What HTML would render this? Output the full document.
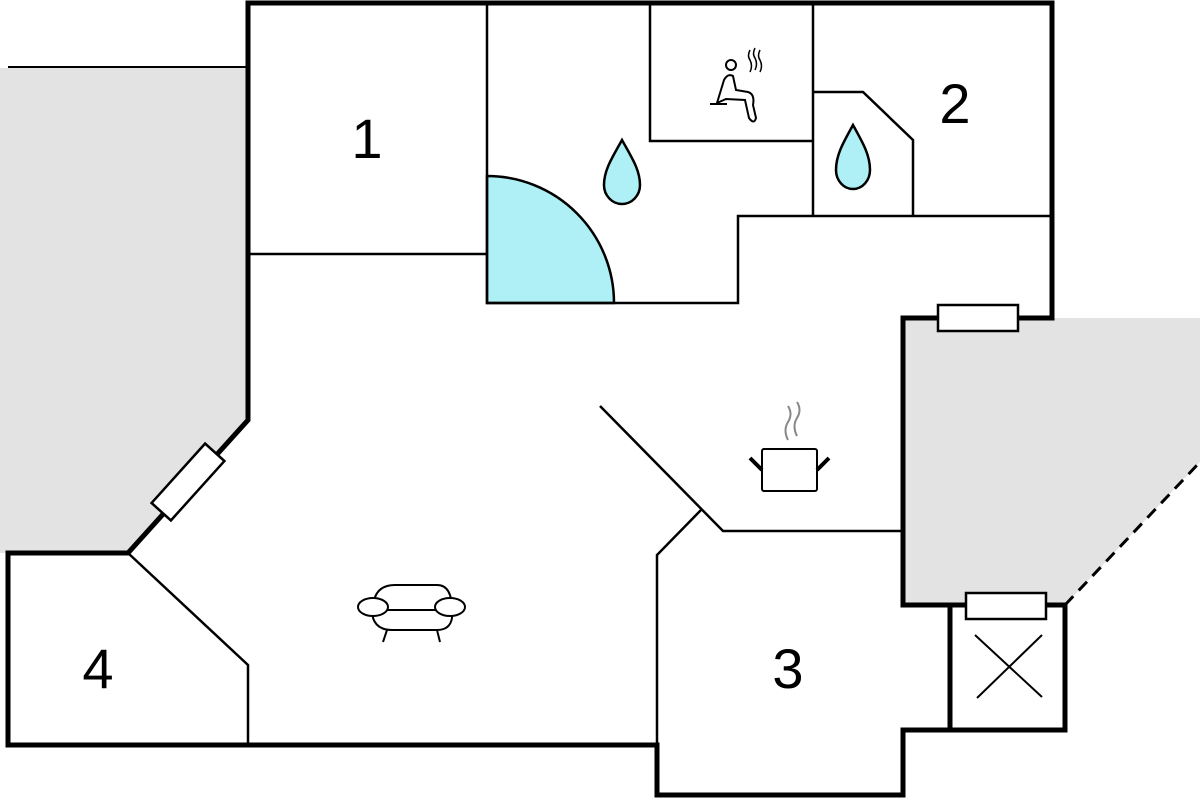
<!DOCTYPE html>
<html><head><style>html,body{margin:0;padding:0;background:#fff}svg{display:block}</style></head>
<body>
<svg width="1200" height="800" viewBox="0 0 1200 800" xmlns="http://www.w3.org/2000/svg">
<rect width="1200" height="800" fill="#fff"/>
<polygon points="0,68 248,68 248,420 128,553 0,553" fill="#e3e3e3"/>
<polygon points="903,318 1200,318 1200,462 1065,605 903,605" fill="#e3e3e3"/>
<line x1="8" y1="67" x2="248" y2="67" stroke="#000" stroke-width="2"/>
<line x1="1065" y1="605" x2="1200" y2="462" stroke="#000" stroke-width="3" stroke-dasharray="12,8"/>
<path d="M487,303 L487,176 A127,127 0 0 1 614,303 Z" fill="#aef0f5" stroke="#000" stroke-width="2.5"/>
<g fill="none" stroke="#000" stroke-width="2.5">
<path d="M487,3 V303 H738 V216 H1052"/>
<path d="M248,254 H487"/>
<path d="M650,3 V141 H813"/>
<path d="M813,3 V216"/>
<path d="M813,92 H863 L913,140 V216"/>
<path d="M600,406 L723,531 H903"/>
<path d="M701,510 L657,555 V745"/>
<path d="M128,553 L248,665 V745"/>
</g>
<g fill="none" stroke="#000" stroke-width="5" stroke-linejoin="miter">
<path d="M248,420 V3 H1052 V318 H903 V605 H1065 V730 H903 V795 H657 V745 H8 V553 H128 Z"/>
<path d="M950,605 V730"/>
</g>
<rect x="938" y="305" width="80" height="26" fill="#fff" stroke="#000" stroke-width="2.5"/>
<rect x="966" y="593" width="80" height="26" fill="#fff" stroke="#000" stroke-width="2.5"/>
<rect x="-40" y="-13" width="80" height="26" fill="#fff" stroke="#000" stroke-width="2.5" transform="translate(188,482) rotate(-48)"/>
<line x1="975" y1="635" x2="1042" y2="697" stroke="#000" stroke-width="2"/>
<line x1="1042" y1="635" x2="977" y2="698" stroke="#000" stroke-width="2"/>
<g fill="#aef0f5" stroke="#000" stroke-width="2.5">
<path d="M622,140 C632,158 640,170 640,185 A18,19 0 0 1 604,185 C604,170 612,158 622,140 Z"/>
<path d="M853,125 C863,143 870,155 870,170 A17,19 0 0 1 836,170 C836,155 843,143 853,125 Z"/>
</g>
<g font-family="'Liberation Sans',sans-serif" font-size="56" fill="#000" text-anchor="middle">
<text x="367" y="158">1</text>
<text x="955" y="123">2</text>
<text x="788" y="688">3</text>
<text x="98" y="688">4</text>
</g>
<!-- sauna icon -->
<g fill="none" stroke="#000" stroke-width="2">
<circle cx="731" cy="65" r="5"/>
<path d="M717,103 L724,80 Q728,73 733,76 L736,90 L748,92 Q755,94 753,105 L756,118 Q754,125 749,118 L745,100 L726,99 Z"/>
<line x1="710" y1="104" x2="727" y2="104"/>
<path d="M750,50 q-3,6 0,10 q3,6 0,12 M755,48 q-3,6 0,10 q3,6 0,12 M760,50 q-3,6 0,10 q3,6 0,12" stroke-width="1.5"/>
</g>
<!-- pot -->
<g fill="none" stroke="#000" stroke-width="2">
<rect x="762" y="449" width="55" height="42" rx="2" fill="#fff"/>
<path d="M750,458 L762,470 M829,458 L817,470" stroke-width="4"/>
<path d="M788,440 q-5,-10 0,-18 q5,-8 0,-16 M797,436 q-5,-10 0,-18 q5,-8 0,-16" stroke="#888" stroke-width="2"/>
</g>
<!-- sofa -->
<g fill="#fff" stroke="#000" stroke-width="2">
<path d="M373,610 Q373,585 395,585 L437,585 Q452,585 452,610 Z"/>
<path d="M373,610 L373,618 Q377,630 392,630 L437,630 Q450,630 452,618 L452,610 Z"/>
<ellipse cx="373" cy="607" rx="15" ry="9"/>
<ellipse cx="450" cy="607" rx="15" ry="9"/>
<line x1="387" y1="630" x2="383" y2="642"/>
<line x1="437" y1="630" x2="440" y2="642"/>
</g>
</svg>
</body></html>
